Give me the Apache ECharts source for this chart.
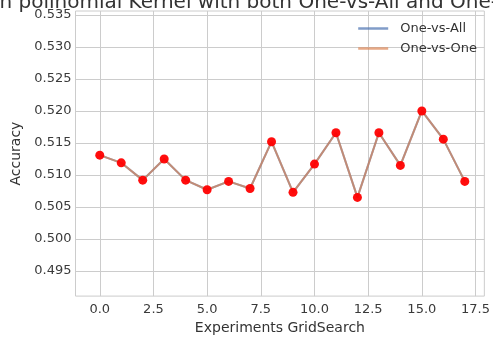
<!DOCTYPE html>
<html>
<head>
<meta charset="utf-8">
<script src="https://cdn.jsdelivr.net/npm/echarts@6/dist/echarts.min.js"></script>
<style>html,body{margin:0;padding:0;background:#fff}#c{width:493px;height:340px}</style>
</head>
<body>
<div id="c"></div>
<script>
const experiments = [0,1,2,3,4,5,6,7,8,9,10,11,12,13,14,15,16,17];
const accuracyOneVsAll = [0.5131,0.5119,0.5092,0.5125,0.5092,0.5077,0.5090,0.5079,0.5152,0.5073,0.5117,0.5166,0.5065,0.5166,0.5115,0.5200,0.5156,0.5090];
const accuracyOneVsOne = [0.5131,0.5119,0.5092,0.5125,0.5092,0.5077,0.5090,0.5079,0.5152,0.5073,0.5117,0.5166,0.5065,0.5166,0.5115,0.5200,0.5156,0.5090];
const xTicks = [0,2.5,5,7.5,10,12.5,15,17.5];
const yTicks = [0.495,0.500,0.505,0.510,0.515,0.520,0.525,0.530,0.535];

const pairs = (ys) => experiments.map((x, i) => [x, ys[i]]);
const font = 'DejaVu Sans';
const txt = '#3a3a3a';

const chart = echarts.init(document.getElementById('c'), null, {renderer: 'canvas'});
chart.setOption({
  animation: false,
  backgroundColor: '#ffffff',
  title: {
    text: 'Accuracy with polinomial Kernel with both One-vs-All and One-vs-One',
    left: -128, top: -7, padding: 0,
    textStyle: {fontFamily: font, fontSize: 20, fontWeight: 'normal', color: '#333333'}
  },
  legend: {
    orient: 'vertical', right: 11, top: 17, itemWidth: 30, itemHeight: 2.5, itemGap: 7,
    icon: 'rect',
    textStyle: {fontFamily: font, fontSize: 13, color: '#333333', padding: [0, 0, 0, 7]},
    data: ['One-vs-All', 'One-vs-One']
  },
  grid: {left: 75.5, right: 4, top: 11, bottom: 42, show: true, borderColor: '#cccccc', borderWidth: 1, containLabel: false},
  xAxis: {
    type: 'value', min: -1.13, max: 17.91,
    name: 'Experiments GridSearch', nameLocation: 'middle', nameGap: 23,
    nameTextStyle: {fontFamily: font, fontSize: 14, color: '#333333'},
    axisLine: {show: false}, axisTick: {show: false, customValues: xTicks},
    axisLabel: {customValues: xTicks, fontFamily: font, fontSize: 13, color: txt, margin: 7,
      formatter: v => v.toFixed(1)},
    splitLine: {show: true, lineStyle: {color: '#cccccc', width: 1}}
  },
  yAxis: {
    type: 'value', min: 0.4911, max: 0.5356,
    name: 'Accuracy', nameLocation: 'middle', nameGap: 48,
    nameTextStyle: {fontFamily: font, fontSize: 14, color: '#333333'},
    axisLine: {show: false}, axisTick: {show: false, customValues: yTicks},
    axisLabel: {customValues: yTicks, fontFamily: font, fontSize: 13, color: txt, margin: 4,
      formatter: v => v.toFixed(3)},
    splitLine: {show: true, lineStyle: {color: '#cccccc', width: 1}}
  },
  series: [
    {name: 'One-vs-All', type: 'line', data: pairs(accuracyOneVsAll), showSymbol: false, symbol: 'none',
      color: 'rgba(76,114,176,0.7)', lineStyle: {width: 2, color: 'rgba(76,114,176,0.7)'}, z: 2},
    {name: 'One-vs-One', type: 'line', data: pairs(accuracyOneVsOne), showSymbol: false, symbol: 'none',
      color: 'rgba(221,132,82,0.7)', lineStyle: {width: 2, color: 'rgba(221,132,82,0.7)'}, z: 3},
    {name: 'points', type: 'scatter', data: pairs(accuracyOneVsOne), symbolSize: 9,
      itemStyle: {color: '#ff0000', opacity: 0.95}, z: 4}
  ]
});
</script>
</body>
</html>
